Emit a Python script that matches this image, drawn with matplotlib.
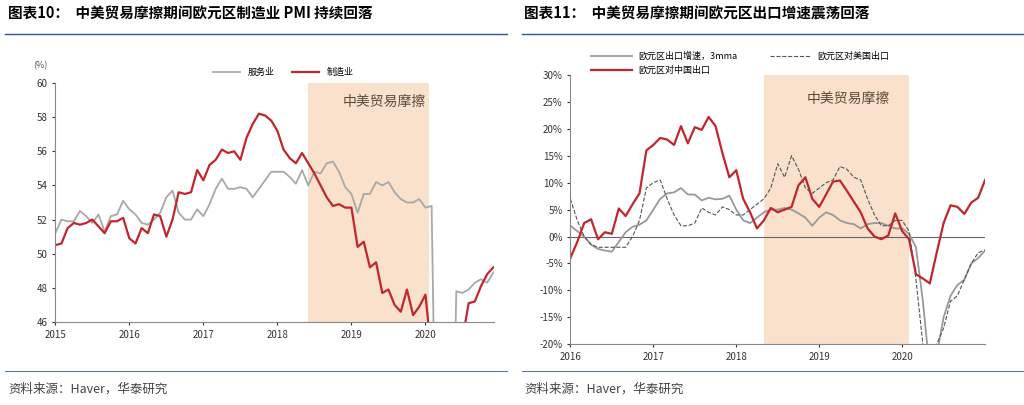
import numpy as np
import matplotlib
matplotlib.use("Agg")
import matplotlib.pyplot as plt

plt.rcParams["font.family"] = ["Noto Sans CJK SC", "DejaVu Sans"]

# left: eurozone PMI, monthly Jan 2015 - Dec 2020
pmi_mfg = [50.5, 50.6, 51.5, 51.8, 51.7, 51.8, 52.0, 51.6, 51.2, 51.9, 51.9, 52.1,
           50.9, 50.6, 51.5, 51.2, 52.3, 52.2, 51.0, 52.0, 53.6, 53.5, 53.6, 54.9,
           54.3, 55.2, 55.5, 56.1, 55.9, 56.0, 55.5, 56.8, 57.6, 58.2, 58.1, 57.8,
           57.2, 56.1, 55.6, 55.3, 55.9, 55.3, 54.7, 54.0, 53.3, 52.8, 52.9, 52.7,
           52.7, 50.4, 50.7, 49.2, 49.5, 47.7, 47.9, 47.0, 46.6, 47.9, 46.4, 46.9,
           47.6, 44.0, 33.0, 33.0, 39.0, 43.0, 45.0, 47.1, 47.2, 48.1, 48.8, 49.2]
pmi_svc = [51.2, 52.0, 51.9, 51.9, 52.5, 52.2, 51.8, 52.3, 51.3, 52.2, 52.3, 53.1,
           52.6, 52.3, 51.8, 51.7, 52.0, 52.4, 53.3, 53.7, 52.4, 52.0, 52.0, 52.6,
           52.2, 52.9, 53.8, 54.4, 53.8, 53.8, 53.9, 53.8, 53.3, 53.8, 54.3, 54.8,
           54.8, 54.8, 54.5, 54.1, 54.9, 54.0, 54.8, 54.7, 55.3, 55.4, 54.8, 53.9,
           53.5, 52.4, 53.5, 53.5, 54.2, 54.0, 54.2, 53.6, 53.2, 53.0, 53.0, 53.2,
           52.7, 52.8, 30.0, 26.0, 30.0, 47.8, 47.7, 47.9, 48.3, 48.5, 48.3, 48.9]

# right: eurozone exports yoy (%), monthly Jan 2016 - Jan 2021
exp_total = [2, 1, 0, -1.5, -2.3, -2.6, -2.8, -1, 0.8, 1.8,
             2.2, 3, 5, 7, 8, 8.2, 9, 7.8, 7.8, 6.7,
             7.2, 6.9, 7, 7.6, 5, 3, 2.5, 3.5, 4.5, 5,
             5, 5.3, 5, 4.3, 3.5, 2, 3.5, 4.5, 4, 3,
             2.5, 2.3, 1.5, 2.3, 2.5, 2.5, 2, 1.5, 1.5, 0.5,
             -2, -12, -25, -22, -15, -11, -9, -8, -5, -4, -2.6]
exp_us = [7, 3, 0, -1.5, -2, -2, -2, -2, -2, 0,
          3, 9, 10, 10.5, 7, 4, 2, 2, 2.5, 5.3,
          4.5, 4, 5.5, 5, 4, 4, 5, 6, 7, 9,
          13.5, 11, 15, 12.5, 9, 8, 9, 10, 10.5, 13,
          12.5, 11, 10.5, 7, 4, 2, 2, 3, 3, 1,
          -8, -20, -25, -20, -17, -12, -11, -8, -5, -3, -2.5]
exp_cn = [-4, -1, 2.5, 3.2, -0.5, 0.8, 0.5, 5.2, 3.8, 6,
          8, 16, 17, 18.3, 18, 17, 20.5, 17.3, 20.3, 19.8,
          22.2, 20.5, 15.5, 11, 12.3, 7, 4.5, 1.5, 3, 5.3,
          4.5, 5, 5.5, 9.5, 11, 7, 5.5, 7.8, 10.2, 10.4,
          8.5, 6.5, 4.5, 1.5, 0, -0.5, 0.2, 4.3, 1, -0.5,
          -7, -7.8, -8.7, -3, 2.5, 5.8, 5.5, 4.2, 6.3, 7.2, 10.5]

RED = "#c0272d"
GRAY = "#a8a8a8"
SHADE = "#f9e1cc"

fig = plt.figure(figsize=(10.24, 4.05), dpi=100)

# titles, rules, sources
fig.text(0.008, 0.955, "图表10：  中美贸易摩擦期间欧元区制造业 PMI 持续回落", fontsize=10.5, weight="bold")
fig.text(0.512, 0.955, "图表11：  中美贸易摩擦期间欧元区出口增速震荡回落", fontsize=10.5, weight="bold")
for x0, x1 in [(0.005, 0.495), (0.51, 1.0)]:
    fig.add_artist(plt.Line2D([x0, x1], [0.915, 0.915], color="#2f5597", lw=1.0))
    fig.add_artist(plt.Line2D([x0, x1], [0.085, 0.085], color="#2f5597", lw=0.6))
fig.text(0.008, 0.03, "资料来源：Haver，华泰研究", fontsize=9, color="#444444")
fig.text(0.512, 0.03, "资料来源：Haver，华泰研究", fontsize=9, color="#444444")

# left chart
ax = fig.add_axes([0.054, 0.205, 0.428, 0.59])
t1 = 2015 + np.arange(len(pmi_mfg)) / 12
ax.axvspan(2018.42, 2020.05, color=SHADE, lw=0)
ax.plot(t1, pmi_svc, color=GRAY, lw=1.3, label="服务业")
ax.plot(t1, pmi_mfg, color=RED, lw=1.6, label="制造业")
ax.set_xlim(2015, 2020.92)
ax.set_ylim(46, 60)
ax.set_yticks(range(46, 61, 2))
ax.set_xticks(range(2015, 2021))
ax.text(2020.0, 58.9, "中美贸易摩擦", fontsize=10, color="#5a4a3a", ha="right", va="center")
ax.text(-0.05, 1.06, "(%)", transform=ax.transAxes, fontsize=6.5, color="#555555")
ax.legend(loc="lower center", bbox_to_anchor=(0.52, 0.99), ncol=2, frameon=False, fontsize=6.5,
          handlelength=3)
for s in ["top", "right"]:
    ax.spines[s].set_visible(False)
for s in ["left", "bottom"]:
    ax.spines[s].set_color("#888888")
ax.tick_params(labelsize=7, colors="#333333", length=2)

# right chart
bx = fig.add_axes([0.557, 0.15, 0.405, 0.665])
t2 = 2016 + np.arange(len(exp_cn)) / 12
bx.axvspan(2018.33, 2020.08, color=SHADE, lw=0)
bx.axhline(0, color="#666666", lw=0.8)
l_tot, = bx.plot(t2, exp_total, color="#999999", lw=1.3, label="欧元区出口增速，3mma")
l_us, = bx.plot(t2, exp_us, color="#555555", lw=0.8, ls="--", label="欧元区对美国出口")
l_cn, = bx.plot(t2, exp_cn, color=RED, lw=1.6, label="欧元区对中国出口")
bx.set_xlim(2016, 2021)
bx.set_ylim(-20, 30)
bx.set_yticks(range(-20, 31, 5))
bx.set_yticklabels([f"{v}%" for v in range(-20, 31, 5)])
bx.set_xticks(range(2016, 2021))
bx.text(2019.35, 25.5, "中美贸易摩擦", fontsize=10, color="#5a4a3a", ha="center", va="center")
bx.legend(handles=[l_tot, l_cn, l_us], loc="lower left", bbox_to_anchor=(0.03, 0.97), ncol=2,
          frameon=False, fontsize=6.5, handlelength=4.5, columnspacing=3.5)
for s in ["top", "right"]:
    bx.spines[s].set_visible(False)
bx.spines["left"].set_color("#888888")
bx.spines["bottom"].set_color("#888888")
bx.tick_params(labelsize=7, colors="#333333", length=2)

fig.savefig("out.png", dpi=100)
